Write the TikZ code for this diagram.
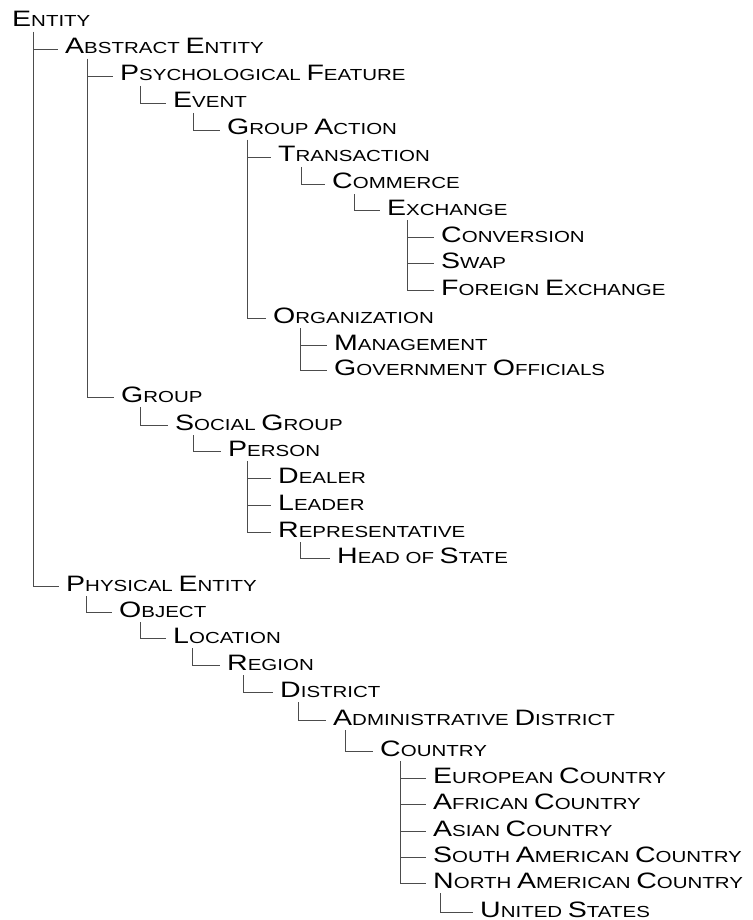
\documentclass[tikz,border=0pt]{standalone}
\usepackage{fontspec}
\setmainfont[FakeStretch=1.28]{Liberation Sans}
\usepackage{tikz}
\usetikzlibrary{calc}

% first letter of a fake small-caps label
\newcommand{\Ini}[1]{{\fontsize{22.3}{22}\selectfont #1}}

\tikzset{
	term/.style={anchor=base west, inner sep=0pt, font=\fontsize{16}{16}\selectfont},
	branch/.style={draw=black!70, line width=0.8pt}
}

\begin{document}
\begin{tikzpicture}[x=1pt, y=-1pt]
	\useasboundingbox (0,0) rectangle (752,920);
	\foreach \name/\x/\y/\txt in {
		entity/12/27/{\Ini{E}NTITY},
		abstract/65/54/{\Ini{A}BSTRACT \Ini{E}NTITY},
		psych/120/81/{\Ini{P}SYCHOLOGICAL \Ini{F}EATURE},
		event/173/108/{\Ini{E}VENT},
		gaction/227/135/{\Ini{G}ROUP \Ini{A}CTION},
		trans/278/162/{\Ini{T}RANSACTION},
		commerce/332/189/{\Ini{C}OMMERCE},
		exchange/387/215/{\Ini{E}XCHANGE},
		conversion/441/242/{\Ini{C}ONVERSION},
		swap/441/268/{\Ini{S}WAP},
		forex/441/295/{\Ini{F}OREIGN \Ini{E}XCHANGE},
		org/273/323/{\Ini{O}RGANIZATION},
		mgmt/334/350/{\Ini{M}ANAGEMENT},
		officials/334/375/{\Ini{G}OVERNMENT \Ini{O}FFICIALS},
		group/121/402/{\Ini{G}ROUP},
		social/175/430/{\Ini{S}OCIAL \Ini{G}ROUP},
		person/228/456/{\Ini{P}ERSON},
		dealer/278/483/{\Ini{D}EALER},
		leader/278/510/{\Ini{L}EADER},
		rep/278/537/{\Ini{R}EPRESENTATIVE},
		head/337/563/{\Ini{H}EAD OF \Ini{S}TATE},
		physical/66/591/{\Ini{P}HYSICAL \Ini{E}NTITY},
		object/119/617/{\Ini{O}BJECT},
		location/173/643/{\Ini{L}OCATION},
		region/227/670/{\Ini{R}EGION},
		district/280/697/{\Ini{D}ISTRICT},
		admin/333/725/{\Ini{A}DMINISTRATIVE \Ini{D}ISTRICT},
		country/380/756/{\Ini{C}OUNTRY},
		european/433/783/{\Ini{E}UROPEAN \Ini{C}OUNTRY},
		african/433/809/{\Ini{A}FRICAN \Ini{C}OUNTRY},
		asian/433/836/{\Ini{A}SIAN \Ini{C}OUNTRY},
		southam/433/862/{\Ini{S}OUTH \Ini{A}MERICAN \Ini{C}OUNTRY},
		northam/433/888/{\Ini{N}ORTH \Ini{A}MERICAN \Ini{C}OUNTRY},
		us/480/917/{\Ini{U}NITED \Ini{S}TATES}}
	{
		\node[term] (\name) at (\x,\y) {\txt};
	}
	% parent / child / offset of the vertical stem
	\foreach \up/\down/\d in {entity/abstract/21, entity/physical/21,
		abstract/psych/22, abstract/group/22, psych/event/20, event/gaction/20,
		gaction/trans/20, gaction/org/20, trans/commerce/23, commerce/exchange/22,
		exchange/conversion/20, exchange/swap/20, exchange/forex/20,
		org/mgmt/27, org/officials/27, group/social/19, social/person/18,
		person/dealer/19, person/leader/19, person/rep/19, rep/head/22,
		physical/object/20, object/location/21, location/region/19,
		region/district/16, district/admin/18, admin/country/12,
		country/european/20, country/african/20, country/asian/20,
		country/southam/20, country/northam/20, northam/us/7}
	{
		\draw[branch] (\up.base west) ++(\d,5) |- ($(\down.base west)+(-7,-5)$);
	}
\end{tikzpicture}
\end{document}
